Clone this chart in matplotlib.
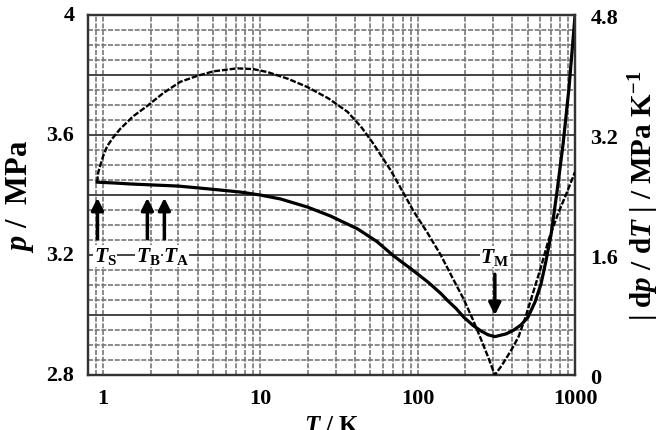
import numpy as np
import matplotlib.pyplot as plt
from matplotlib.ticker import LogLocator, MultipleLocator, FixedLocator, FixedFormatter, NullFormatter

plt.rcParams['font.family'] = 'Liberation Serif'
plt.rcParams['font.weight'] = 'bold'
plt.rcParams['axes.labelweight'] = 'bold'
plt.rcParams['mathtext.fontset'] = 'custom'
plt.rcParams['mathtext.rm'] = 'Liberation Serif:bold'
plt.rcParams['mathtext.it'] = 'Liberation Serif:bold:italic'

# p(T) curve
T_p = [0.915, 1.2, 1.49, 2.0, 3.0, 4.8, 7.46, 10, 13.4, 19.9, 27.9, 41.5, 55, 70.3, 90, 116,
       140, 155, 175, 196, 225, 252, 280, 309, 364, 408, 453, 502, 556, 607, 653, 703, 767,
       839, 916, 1000]
p_val = [3.443, 3.440, 3.437, 3.434, 3.430, 3.420, 3.410, 3.400, 3.387, 3.360, 3.330, 3.287,
         3.245, 3.197, 3.155, 3.110, 3.072, 3.048, 3.022, 2.993, 2.965, 2.947, 2.934, 2.928,
         2.937, 2.950, 2.967, 2.993, 3.043, 3.103, 3.18, 3.267, 3.41, 3.57, 3.76, 4.0]

# |dp/dT| curve (right axis)
T_d = [0.915, 0.93, 0.957, 1.0, 1.06, 1.15, 1.28, 1.55, 1.91, 2.41, 3.09, 3.97, 5.02, 7.1, 9.0,
       11.1, 15, 19.9, 27, 35.8, 44, 52.4, 67.3, 80, 94.3, 115, 140, 165, 196, 225, 252, 280,
       309, 340, 362, 400, 437, 480, 525, 607, 680, 779, 889, 1000]
dpdT = [2.57, 2.70, 2.79, 2.92, 3.05, 3.16, 3.28, 3.45, 3.59, 3.76, 3.91, 3.99, 4.05, 4.09, 4.08,
        4.04, 3.95, 3.84, 3.69, 3.51, 3.30, 3.08, 2.73, 2.45, 2.18, 1.90, 1.60, 1.31, 1.01, 0.73,
        0.48, 0.24, 0.0, 0.12, 0.21, 0.36, 0.51, 0.75, 1.01, 1.44, 1.81, 2.15, 2.44, 2.71]

# marked temperatures
marks = ['$T_\\mathrm{S}$', '$T_\\mathrm{B}$', '$T_\\mathrm{A}$']
T_marks = [0.92, 1.91, 2.45]
T_M = 309

x_ticks = [1, 10, 100, 1000]
x_labels = ['1', '10', '100', '1000']
left_ticks = [2.8, 3.2, 3.6, 4.0]
left_labels = ['2.8', '3.2', '3.6', '4']
right_ticks = [0, 1.6, 3.2, 4.8]
right_labels = ['0', '1.6', '3.2', '4.8']

fig = plt.figure(figsize=(6.61, 4.31), dpi=100)
ax = fig.add_axes([0.133, 0.1276, 0.737, 0.835])
ax.set_xscale('log')
ax.set_xlim(0.8, 1000)
ax.set_ylim(2.8, 4.0)
ax.set_axisbelow(True)

gc = '#777777'
# vertical grid
ax.xaxis.set_major_locator(FixedLocator(x_ticks))
ax.xaxis.set_major_formatter(FixedFormatter(x_labels))
ax.xaxis.set_minor_locator(LogLocator(base=10, subs=np.arange(2, 10)))
ax.xaxis.set_minor_formatter(NullFormatter())
ax.grid(True, which='both', axis='x', color=gc, lw=1.2, ls=(0, (3, 1)))
# horizontal grid
ax.yaxis.set_major_locator(MultipleLocator(0.2))
ax.yaxis.set_minor_locator(MultipleLocator(0.05))
ax.yaxis.set_major_formatter(NullFormatter())
ax.yaxis.set_minor_formatter(NullFormatter())
ax.grid(True, which='major', axis='y', color='#444444', lw=1.4, ls='-')
ax.grid(True, which='minor', axis='y', color=gc, lw=1.2, ls=(0, (3, 1)))
ax.tick_params(which='both', length=0)
for t, lab in zip(left_ticks, left_labels):
    ax.text(-0.028, (t - 2.8) / 1.2, lab, transform=ax.transAxes, ha='right', va='center',
            fontsize=16, fontweight='bold')
ax.tick_params(axis='x', labelsize=16, pad=9)

ax.plot(T_p, p_val, color='black', lw=2.3, zorder=5)

# arrows + labels
for tm in T_marks:
    ax.annotate('', xy=(tm, 3.40), xytext=(tm, 3.245),
                arrowprops=dict(arrowstyle='-|>', lw=2.5, color='black', mutation_scale=18))
lab_T = [1.03, 1.93, 2.9]
for lab, tl in zip(marks, lab_T):
    ax.text(tl, 3.197, lab, fontsize=15.5, ha='center', va='center',
            bbox=dict(facecolor='white', edgecolor='none', pad=0.3), zorder=6)
ax.annotate('', xy=(T_M, 2.99), xytext=(T_M, 3.145),
            arrowprops=dict(arrowstyle='-|>', lw=2.5, color='black', mutation_scale=18))
ax.text(T_M, 3.195, '$T_\\mathrm{M}$', fontsize=15.5, ha='center', va='center',
        bbox=dict(facecolor='white', edgecolor='none', pad=0.3), zorder=6)

ax.set_ylabel('$p$ /  MPa', fontsize=22, labelpad=34)
ax.set_xlabel('$T$ / K', fontsize=18, labelpad=5)

ax2 = ax.twinx()
ax2.set_ylim(0, 4.8)
ax2.set_yticks(right_ticks)
ax2.set_yticklabels(right_labels)
ax2.tick_params(length=0, labelsize=16, pad=11)
ax2.plot(T_d, dpdT, color='black', lw=1.7, ls=(0, (2.5, 0.8)), zorder=4)
ax2.set_ylabel('| d$p$ / d$T$ | / MPa K$^{-1}$', fontsize=21, labelpad=6)

for a in (ax, ax2):
    for s in a.spines.values():
        s.set_color('#333333')
        s.set_linewidth(1.6)

fig.savefig('out.png', dpi=100)
